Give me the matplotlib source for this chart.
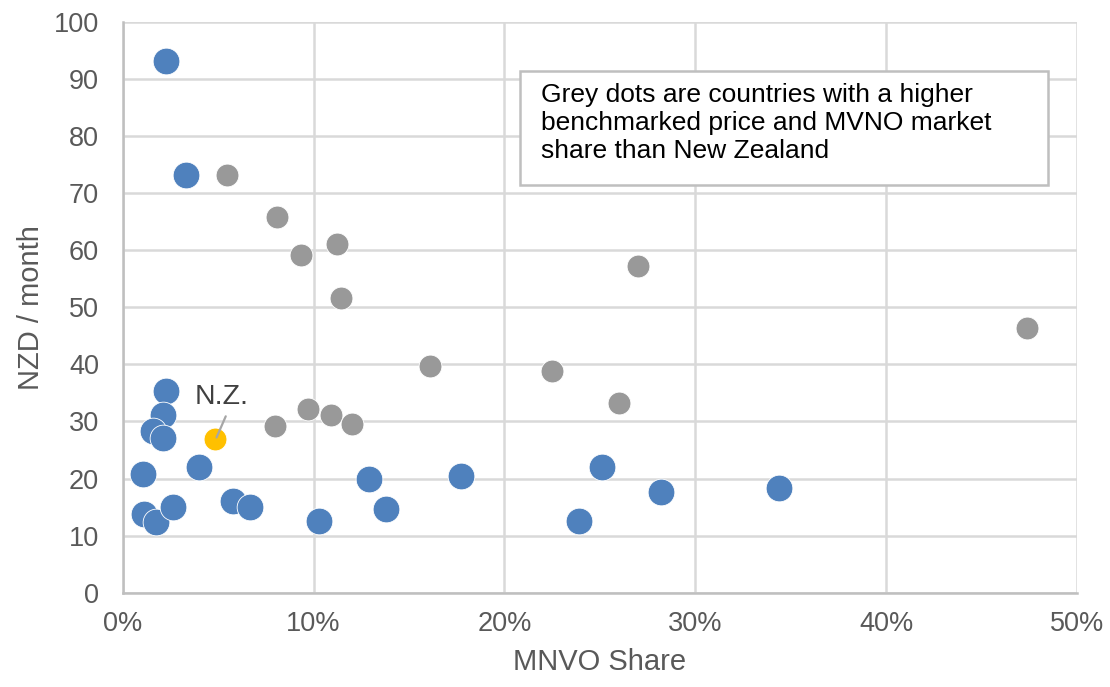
import matplotlib
matplotlib.use("Agg")
import matplotlib.pyplot as plt
from matplotlib.ticker import FuncFormatter

plt.rcParams["font.family"] = ["Liberation Sans", "DejaVu Sans"]

# MVNO share (%) and NZD/month
blue_x = [2.27, 3.33, 2.27, 2.12, 1.59, 2.12, 1.07, 1.12, 1.75, 2.64, 4.0,
          5.79, 6.68, 10.3, 12.9, 13.8, 17.7, 23.9, 25.1, 28.2, 34.4]
blue_y = [93.1, 73.1, 35.4, 31.2, 28.4, 27.1, 20.8, 13.8, 12.4, 15.0, 22.0,
          16.0, 15.0, 12.5, 19.9, 14.7, 20.5, 12.5, 22.1, 17.6, 18.3]

grey_x = [5.47, 8.1, 9.35, 11.24, 11.45, 16.1, 22.5, 27.0, 47.4, 26.0,
          9.72, 10.9, 12.0, 8.0]
grey_y = [73.1, 65.9, 59.2, 61.1, 51.7, 39.7, 38.8, 57.3, 46.3, 33.2,
          32.1, 31.2, 29.6, 29.2]

nz_x = [4.84]
nz_y = [26.9]

NOTE = ("Grey dots are countries with a higher\n"
        "benchmarked price and MVNO market\n"
        "share than New Zealand")

TXT = "#595959"
GRID = "#d9d9d9"

fig = plt.figure(figsize=(11.1, 6.87), dpi=100)
ax = fig.add_axes([0.1105, 0.1373, 0.8598, 0.8307])

ax.scatter(grey_x, grey_y, s=270, color="#999999", edgecolors="white",
           linewidths=0.6, zorder=3)
ax.scatter(blue_x, blue_y, s=370, color="#4f81bd", edgecolors="white",
           linewidths=0.6, zorder=4)
ax.scatter(nz_x, nz_y, s=270, color="#ffc000", edgecolors="white",
           linewidths=0.6, zorder=5)

# label + leader line for New Zealand
ax.text(5.2, 34.2, "N.Z.", ha="center", va="center", fontsize=20.5,
        color="#404040", zorder=6)
ax.annotate("", xy=(nz_x[0] + 0.08, nz_y[0] + 0.3), xytext=(5.4, 30.9),
            arrowprops=dict(arrowstyle="-", color="#a6a6a6", lw=1.6,
                            shrinkA=0, shrinkB=0), zorder=6)

ax.set_xlim(0, 50)
ax.set_ylim(0, 100)
ax.set_xticks(range(0, 51, 10))
ax.set_yticks(range(0, 101, 10))
ax.xaxis.set_major_formatter(FuncFormatter(lambda v, p: f"{v:.0f}%"))
ax.grid(True, color=GRID, lw=1.8, zorder=0)
ax.set_axisbelow(True)
for s in ["top", "right"]:
    ax.spines[s].set_visible(False)
for s in ["left", "bottom"]:
    ax.spines[s].set_color("#bfbfbf")
    ax.spines[s].set_linewidth(1.8)
ax.tick_params(axis="both", length=0, labelsize=19.5, labelcolor=TXT)
ax.tick_params(axis="x", pad=13)
ax.tick_params(axis="y", pad=17)

ax.set_xlabel("MNVO Share", fontsize=21, color=TXT, labelpad=8)
ax.set_ylabel("NZD / month", fontsize=21, color=TXT, labelpad=6)

ax.text(0.4385, 0.893, NOTE, transform=ax.transAxes, ha="left", va="top",
        fontsize=19, color="black", linespacing=1.22, zorder=7)
box = plt.Rectangle((0.4166, 0.714), 0.5526, 0.2, transform=ax.transAxes,
                    facecolor="white", edgecolor="#bfbfbf", lw=1.8, zorder=6)
ax.add_patch(box)

fig.savefig("out.png", dpi=100)
